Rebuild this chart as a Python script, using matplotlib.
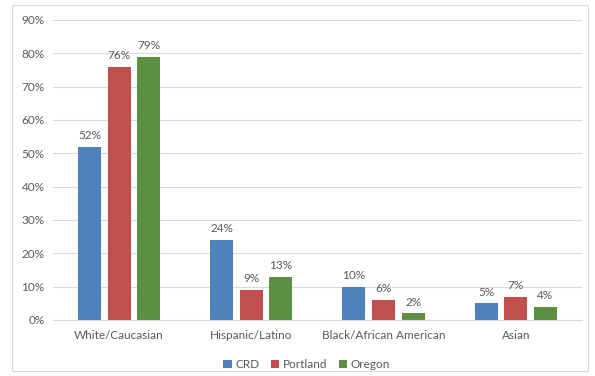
import numpy as np
import matplotlib.pyplot as plt
from matplotlib.patches import Rectangle

categories = ["White/Caucasian", "Hispanic/Latino", "Black/African American", "Asian"]
series = ["CRD", "Portland", "Oregon"]
crd = [52, 24, 10, 5]
portland = [76, 9, 6, 7]
oregon = [79, 13, 2, 4]
colors = ["#4F81BD", "#C0504D", "#5A9140"]

plt.rcParams['font.family'] = ['Lato', 'DejaVu Sans']
text_color = "#595959"
fs = 8.5

fig = plt.figure(figsize=(5.95, 3.76), dpi=100)
ax = fig.add_axes([0.089, 0.149, 0.889, 0.798])

x = np.arange(len(categories))
width = 0.174
step = 0.224
for i, (name, vals) in enumerate(zip(series, [crd, portland, oregon])):
    pos = x + (i - 1) * step
    bars = ax.bar(pos, vals, width, color=colors[i], label=name, zorder=3)
    for b, v in zip(bars, vals):
        ax.annotate("%d%%" % v, (b.get_x() + b.get_width() / 2, v),
                    xytext=(0, 4), textcoords="offset points",
                    ha="center", va="bottom", fontsize=fs, color=text_color)

ax.set_xlim(-0.5, 3.5)
ax.set_ylim(0, 90)
ax.set_yticks(range(0, 91, 10))
ax.set_yticklabels(["%d%%" % t for t in range(0, 91, 10)])
ax.set_xticks(x)
ax.set_xticklabels(categories)
ax.tick_params(axis="both", length=0, labelsize=fs, colors=text_color)
ax.tick_params(axis="x", pad=7)
ax.tick_params(axis="y", pad=6)
ax.grid(axis="y", color="#D9D9D9", linewidth=0.8, zorder=0)
for s in ["top", "right", "left"]:
    ax.spines[s].set_visible(False)
ax.spines["bottom"].set_color("#D9D9D9")
ax.spines["bottom"].set_zorder(4)

leg = ax.legend(loc="upper center", bbox_to_anchor=(0.48, -0.095), ncol=3,
                frameon=False, fontsize=fs, handlelength=0.7, handleheight=0.7,
                handletextpad=0.3, columnspacing=1.0)
for t in leg.get_texts():
    t.set_color(text_color)

fig.patches.append(Rectangle((12 / 595, 5 / 376), 576 / 595, 366 / 376,
                             transform=fig.transFigure, fill=False,
                             edgecolor="#D9D9D9", linewidth=0.8))

fig.savefig("out.png", dpi=100)
